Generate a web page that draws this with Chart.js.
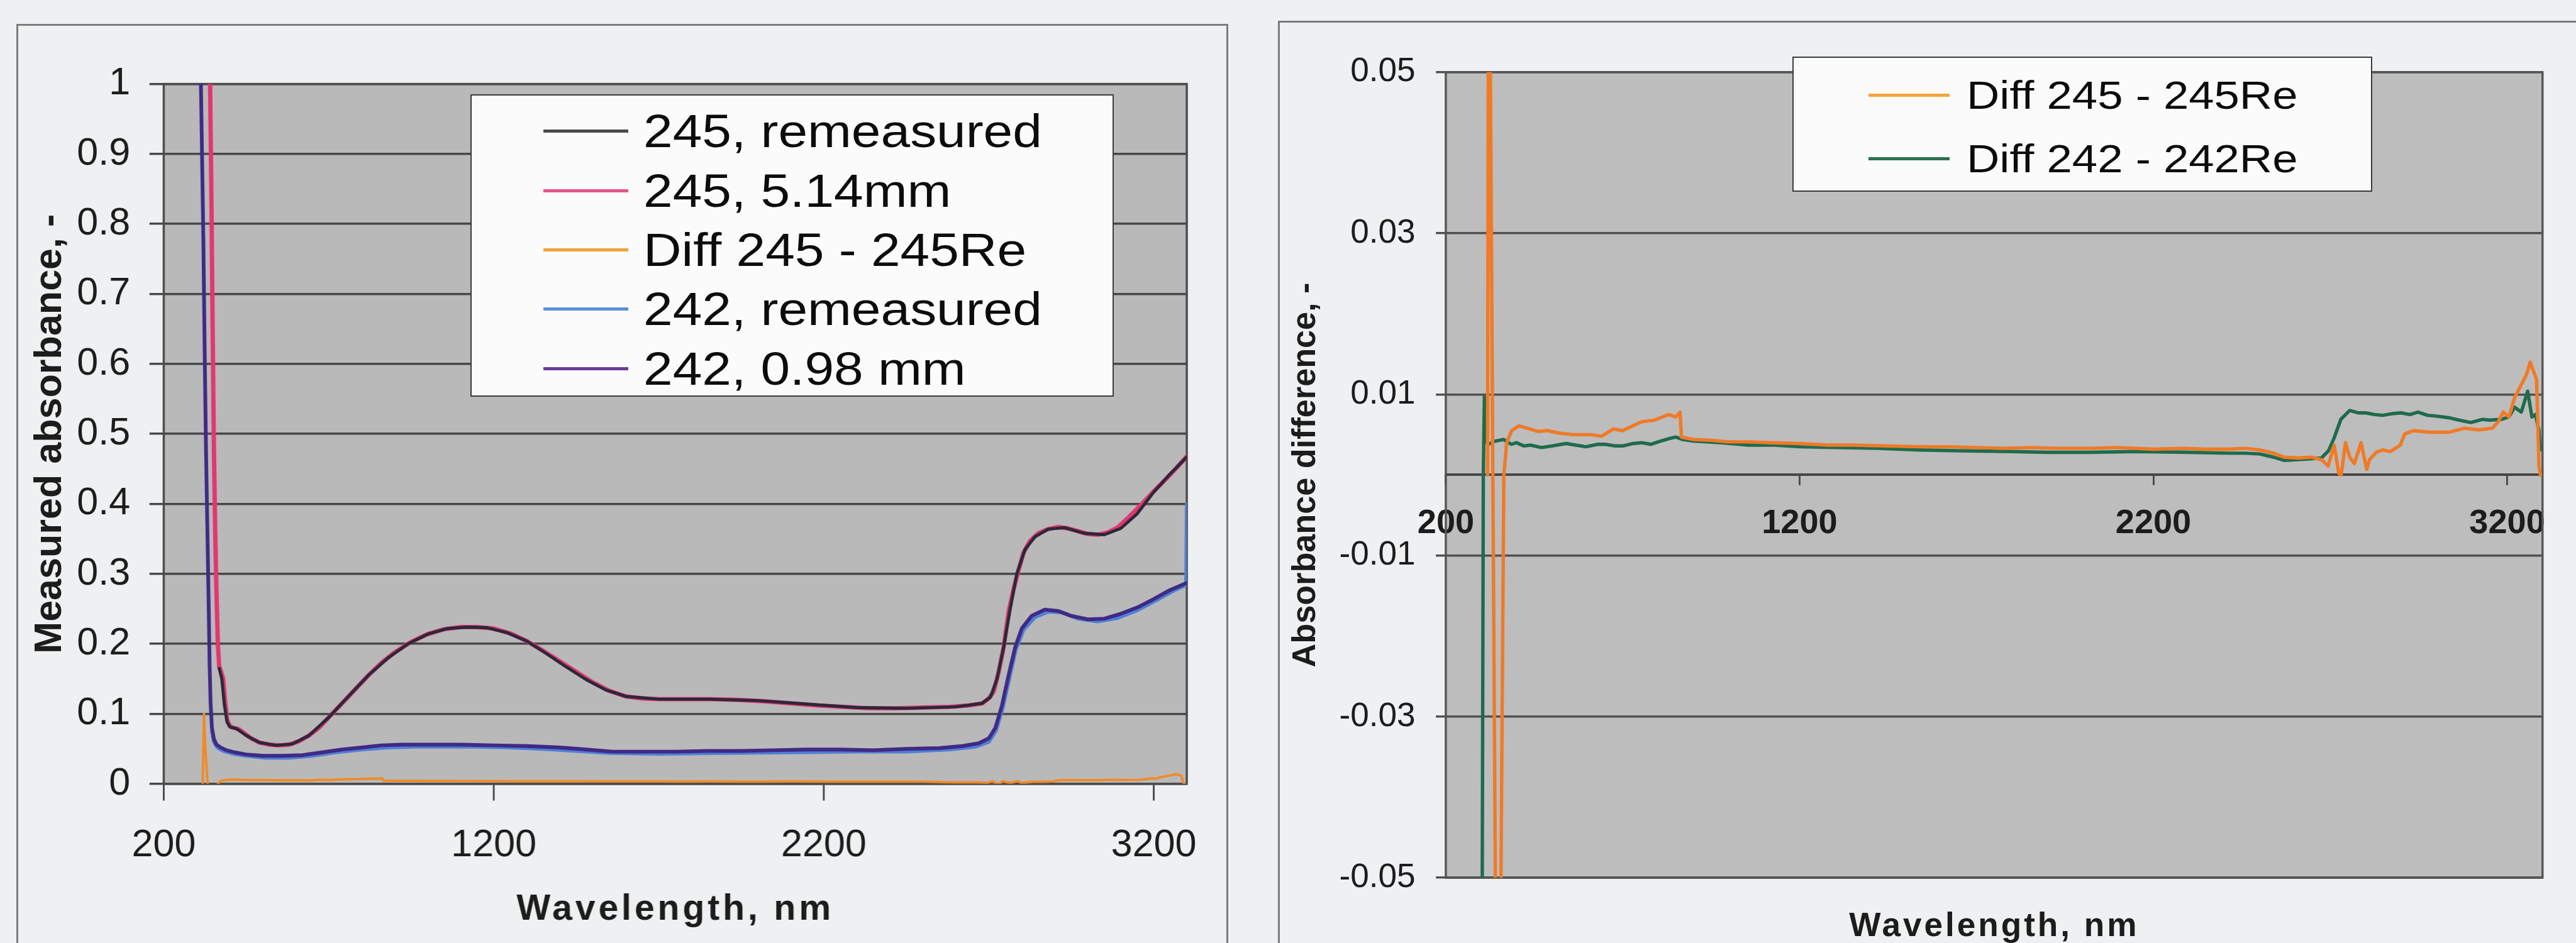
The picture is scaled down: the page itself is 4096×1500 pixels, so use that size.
<!DOCTYPE html>
<html>
<head>
<meta charset="utf-8">
<title>Measured absorbance and absorbance difference</title>
<script src="https://cdn.jsdelivr.net/npm/chart.js@4.4.1/dist/chart.umd.min.js"></script>
<style>
  html, body { margin: 0; padding: 0; }
  body {
    width: 4096px; height: 1500px; overflow: hidden; position: relative;
    background: #eef0f2; font-family: 'Liberation Sans', Arial, sans-serif;
  }
  .frame { position: absolute; box-sizing: border-box; border: 3px solid #7c7c7c; }
  canvas { position: absolute; }
  .legend { position: absolute; box-sizing: border-box; background: #fbfbfb; border: 3px solid #3c3c3c; }
  .legend .key { position: absolute; }
  .legend .label { position: absolute; white-space: nowrap; color: #0c0c0c; line-height: 1; transform-origin: left center; }
</style>
</head>
<body>
<div class="frame" id="frameLeft"></div>
<div class="frame" id="frameRight"></div>
<canvas id="absChart"></canvas>
<canvas id="diffChart"></canvas>
<div class="legend" id="legendLeft"></div>
<div class="legend" id="legendRight"></div>
<script>
// ---- data (wavelength in nm, absorbance) ----
const xTicks = [200, 1200, 2200, 3200];
const yTicksAbs = [0, 0.1, 0.2, 0.3, 0.4, 0.5, 0.6, 0.7, 0.8, 0.9, 1];
const yTicksDiff = [-0.05, -0.03, -0.01, 0.01, 0.03, 0.05];

const namesLeft = ['245, remeasured', '245, 5.14mm', 'Diff 245 - 245Re', '242, remeasured', '242, 0.98 mm'];
const namesRight = ['Diff 245 - 245Re', 'Diff 242 - 242Re'];

const wl245 = [336, 340, 344, 348, 352, 356, 360, 364, 368, 374, 380, 386, 392, 400, 412, 428, 445, 465, 490, 520,
  550, 580, 610, 640, 670, 700, 740, 780, 820, 860, 900, 950, 1000, 1050, 1100, 1150, 1200, 1250, 1300, 1350,
  1400, 1450, 1500, 1550, 1600, 1650, 1700, 1780, 1860, 1940, 2020, 2100, 2180, 2260, 2340, 2420, 2500, 2580, 2640, 2680,
  2700, 2715, 2730, 2745, 2760, 2775, 2790, 2805, 2825, 2850, 2880, 2910, 2940, 2970, 3000, 3030, 3060, 3090, 3120, 3160,
  3200, 3240, 3270, 3300];
const abs245 = [1.30, 1.02, 0.86, 0.66, 0.48, 0.36, 0.27, 0.20, 0.168, 0.160, 0.150, 0.118, 0.092, 0.082, 0.080, 0.078, 0.072, 0.065, 0.059, 0.056,
  0.055, 0.056, 0.061, 0.069, 0.080, 0.095, 0.115, 0.135, 0.155, 0.173, 0.188, 0.203, 0.214, 0.221, 0.224, 0.224, 0.222, 0.215, 0.204, 0.190,
  0.175, 0.160, 0.145, 0.133, 0.125, 0.122, 0.121, 0.121, 0.121, 0.120, 0.118, 0.115, 0.112, 0.110, 0.108, 0.108, 0.109, 0.110, 0.112, 0.115,
  0.122, 0.132, 0.160, 0.195, 0.245, 0.278, 0.305, 0.330, 0.347, 0.358, 0.364, 0.367, 0.365, 0.361, 0.357, 0.356, 0.359, 0.366, 0.379, 0.398,
  0.418, 0.437, 0.452, 0.468];

const wl245Re = [368, 376, 384, 392, 402, 420, 450, 490, 540, 590, 640, 700, 760, 820, 880, 940, 1000, 1060, 1120, 1180,
  1240, 1300, 1360, 1420, 1480, 1540, 1600, 1700, 1850, 2000, 2150, 2300, 2450, 2600, 2680, 2705, 2725, 2745, 2765, 2785,
  2810, 2840, 2880, 2930, 2990, 3050, 3100, 3150, 3200, 3250, 3300];
const abs245Re = [0.165, 0.150, 0.112, 0.088, 0.081, 0.079, 0.069, 0.059, 0.055, 0.057, 0.069, 0.095, 0.125, 0.155, 0.180, 0.200, 0.214, 0.222, 0.224, 0.223,
  0.216, 0.204, 0.186, 0.167, 0.149, 0.134, 0.125, 0.121, 0.121, 0.119, 0.114, 0.109, 0.108, 0.110, 0.115, 0.124, 0.150, 0.195, 0.250, 0.300,
  0.335, 0.353, 0.364, 0.366, 0.358, 0.356, 0.365, 0.386, 0.417, 0.443, 0.467];

const wl242 = [308, 312, 316, 320, 324, 328, 332, 336, 339, 342, 346, 352, 360, 372, 390, 415, 450, 500, 560, 620,
  680, 740, 800, 860, 920, 1000, 1100, 1200, 1300, 1400, 1480, 1560, 1650, 1750, 1850, 1950, 2050, 2150, 2250, 2350,
  2450, 2550, 2620, 2670, 2700, 2720, 2740, 2760, 2780, 2800, 2830, 2870, 2910, 2950, 3000, 3050, 3100, 3150, 3200, 3250,
  3300];
const abs242 = [1.30, 1.02, 0.90, 0.78, 0.62, 0.48, 0.37, 0.26, 0.17, 0.115, 0.080, 0.064, 0.056, 0.052, 0.048, 0.045, 0.042, 0.040, 0.040, 0.041,
  0.045, 0.049, 0.052, 0.055, 0.056, 0.056, 0.056, 0.055, 0.054, 0.052, 0.049, 0.046, 0.046, 0.046, 0.047, 0.047, 0.048, 0.049, 0.049, 0.048,
  0.050, 0.051, 0.054, 0.058, 0.065, 0.080, 0.112, 0.155, 0.195, 0.222, 0.240, 0.249, 0.247, 0.240, 0.235, 0.236, 0.243, 0.252, 0.264, 0.277,
  0.287];

const wl242Re = [346, 352, 362, 380, 410, 450, 510, 580, 650, 720, 800, 880, 960, 1050, 1150, 1250, 1350, 1450, 1550, 1700,
  1900, 2100, 2300, 2450, 2580, 2660, 2700, 2722, 2742, 2762, 2782, 2805, 2840, 2880, 2920, 2970, 3030, 3090, 3150, 3210,
  3260, 3298, 3300];
const abs242Re = [0.076, 0.060, 0.052, 0.047, 0.043, 0.040, 0.037, 0.037, 0.040, 0.045, 0.049, 0.052, 0.053, 0.053, 0.053, 0.052, 0.050, 0.047, 0.044, 0.043,
  0.044, 0.045, 0.046, 0.046, 0.049, 0.053, 0.060, 0.076, 0.108, 0.150, 0.192, 0.220, 0.238, 0.246, 0.245, 0.236, 0.232, 0.237, 0.248, 0.263,
  0.276, 0.284, 0.400];

const wlDiff245 = [318, 322, 326, 333, 340, 348, 356, 364, 372, 386, 407, 430, 460, 487, 520, 560, 611, 640, 674, 700,
  753, 790, 830, 850, 862, 866, 900, 950, 1000, 1056, 1120, 1200, 1280, 1350, 1440, 1538, 1620, 1700, 1780, 1850,
  1930, 2020, 2100, 2200, 2280, 2350, 2414, 2460, 2501, 2540, 2570, 2610, 2646, 2675, 2694, 2711, 2724, 2731, 2743, 2755,
  2768, 2787, 2803, 2811, 2830, 2848, 2870, 2898, 2911, 2935, 2980, 3035, 3079, 3120, 3158, 3175, 3189, 3205, 3221, 3240,
  3255, 3265, 3275, 3283, 3290, 3294];
const diff245 = [0, 0.1, 0.05, 0, -0.05, -0.07, -0.05, 0, 0.004, 0.0055, 0.0061, 0.0058, 0.0054, 0.0055, 0.0052, 0.0050, 0.0050, 0.0048, 0.0057, 0.0055,
  0.0066, 0.0068, 0.0075, 0.0072, 0.0078, 0.0047, 0.0044, 0.0043, 0.0041, 0.0041, 0.0040, 0.0039, 0.0037, 0.0037, 0.0036, 0.0035, 0.0035, 0.0034, 0.0033, 0.0034,
  0.0033, 0.0033, 0.0034, 0.0032, 0.0033, 0.0032, 0.0032, 0.0033, 0.0031, 0.0027, 0.0022, 0.0021, 0.0022, 0.0019, 0.0011, 0.0037, 0.0002, 0.0, 0.0040, 0.0022,
  0.0014, 0.0040, 0.0007, 0.0019, 0.0028, 0.0031, 0.0029, 0.0037, 0.0051, 0.0055, 0.0053, 0.0053, 0.0058, 0.0056, 0.0058, 0.0066, 0.0078, 0.0072, 0.0096, 0.0112,
  0.0125, 0.0140, 0.0128, 0.0119, 0.0011, 0.0];

const wlDiff242 = [300, 303, 306, 309, 316, 320, 340, 363, 385, 400, 420, 440, 470, 500, 540, 596, 630, 650, 680, 700,
  730, 753, 780, 800, 830, 850, 870, 900, 980, 1056, 1130, 1200, 1300, 1420, 1538, 1650, 1800, 1900, 2020, 2150,
  2300, 2414, 2460, 2501, 2540, 2570, 2610, 2646, 2675, 2695, 2711, 2730, 2755, 2780, 2800, 2825, 2848, 2875, 2900, 2925,
  2948, 2975, 3000, 3035, 3065, 3097, 3130, 3150, 3184, 3205, 3221, 3240, 3258, 3270, 3280, 3290, 3293];
const diff242 = [-0.07, -0.05, 0, 0.0097, 0.004, 0.0038, 0.0042, 0.0044, 0.0038, 0.004, 0.0036, 0.0037, 0.0034, 0.0036, 0.0039, 0.0035, 0.0038, 0.0038, 0.0036, 0.0036,
  0.0039, 0.0040, 0.0038, 0.0041, 0.0045, 0.0047, 0.0044, 0.0042, 0.0040, 0.0037, 0.0037, 0.0035, 0.0034, 0.0033, 0.0031, 0.0030, 0.0029, 0.0028, 0.0028, 0.0029,
  0.0028, 0.0027, 0.0027, 0.0026, 0.0022, 0.0018, 0.0019, 0.0020, 0.0021, 0.0030, 0.0046, 0.0069, 0.0080, 0.0077, 0.0077, 0.0075, 0.0074, 0.0076, 0.0077, 0.0075,
  0.0078, 0.0074, 0.0073, 0.0071, 0.0068, 0.0065, 0.0069, 0.0068, 0.0069, 0.0072, 0.0084, 0.0078, 0.0104, 0.0072, 0.0075, 0.0055, 0.0031];

const keyColorsLeft = ['#4a4a4a', '#e8558a', '#f2a23a', '#5b8ed8', '#6a3a9c'];
const keyColorsRight = ['#f5a43a', '#2b7050'];

// ---- layout helpers (sizes given in reference pixels, drawn at 0.985) ----
const S = 0.985;
const px = (v) => v * S;
const FONT = "'Liberation Sans', Arial, sans-serif";

const pts = (xs, ys) => xs.map((x, i) => ({ x, y: ys[i] }));

function place(el, x, y, w, h) {
  el.style.left = px(x) + 'px';
  el.style.top = px(y) + 'px';
  el.style.width = px(w) + 'px';
  el.style.height = px(h) + 'px';
}

function sizeCanvas(id, x, y, w, h) {
  const c = document.getElementById(id);
  place(c, x, y, w, h);
  c.width = Math.round(px(w));
  c.height = Math.round(px(h));
  return c;
}

function buildLegend(id, box, rows, names, colors) {
  const el = document.getElementById(id);
  place(el, box.x, box.y, box.w, box.h);
  el.style.borderWidth = px(3) + 'px';
  const inset = 3;
  names.forEach((name, i) => {
    const cy = rows.first + i * rows.step - box.y - inset;
    const key = document.createElement('div');
    key.className = 'key';
    key.style.left = px(rows.keyX - box.x - inset) + 'px';
    key.style.top = px(cy - 2.5) + 'px';
    key.style.width = px(rows.keyW) + 'px';
    key.style.height = px(5) + 'px';
    key.style.background = colors[i];
    el.appendChild(key);

    const label = document.createElement('div');
    label.className = 'label';
    label.textContent = name;
    label.style.fontSize = px(rows.font) + 'px';
    label.style.left = px(rows.textX - box.x - inset) + 'px';
    label.style.top = px(cy - rows.font / 2) + 'px';
    label.style.transform = `scaleX(${rows.stretch})`;
    el.appendChild(label);
  });
}

// linear scale whose title can be letter-spaced, like the original axis titles
class SpacedLinearScale extends Chart.LinearScale {
  drawTitle() {
    const spacing = this.options.title.letterSpacing;
    this.ctx.save();
    if (spacing) this.ctx.letterSpacing = spacing;
    super.drawTitle();
    this.ctx.restore();
  }
}
SpacedLinearScale.id = 'spacedLinear';
SpacedLinearScale.defaults = Chart.LinearScale.defaults;
Chart.register(SpacedLinearScale);

const plotFrame = {
  id: 'plotFrame',
  beforeDraw(chart, args, opts) {
    const { ctx, chartArea: a } = chart;
    ctx.save();
    ctx.fillStyle = opts.fill;
    ctx.fillRect(a.left, a.top, a.right - a.left, a.bottom - a.top);
    ctx.restore();
  },
  beforeDatasetsDraw(chart, args, opts) {
    const { ctx, chartArea: a } = chart;
    ctx.save();
    ctx.strokeStyle = opts.border;
    ctx.lineWidth = opts.width;
    ctx.strokeRect(a.left, a.top, a.right - a.left, a.bottom - a.top);
    ctx.restore();
  }
};

Chart.defaults.font.family = FONT;
Chart.defaults.color = '#1c1c1c';

const setTicks = (values) => (scale) => {
  scale.ticks = values.map((v) => ({ value: v }));
};
const plainLabel = (v) => String(v);

const lineDefaults = {
  point: { radius: 0, hoverRadius: 0 },
  line: { tension: 0, borderJoinStyle: 'round', borderCapStyle: 'round', fill: false }
};

// ---- frames ----
place(document.getElementById('frameLeft'), 26, 39, 1957, 1600);
place(document.getElementById('frameRight'), 2063, 33, 2200, 1600);

// ---- left chart: measured absorbance ----
const absCanvas = sizeCanvas('absChart', 26, 39, 1957, 1483);
new Chart(absCanvas, {
  type: 'line',
  data: {
    datasets: [
      { label: namesLeft[0], data: pts(wl245Re, abs245Re), borderColor: '#2b2838', borderWidth: px(5), order: 0 },
      { label: namesLeft[1], data: pts(wl245, abs245), borderColor: '#e2376f', borderWidth: px(7), order: 1 },
      { label: namesLeft[2], data: pts(wlDiff245, diff245), borderColor: '#f08a2a', borderWidth: px(4), order: 2 },
      { label: namesLeft[3], data: pts(wl242Re, abs242Re), borderColor: '#4f7fd6', borderWidth: px(6), order: 4 },
      { label: namesLeft[4], data: pts(wl242, abs242), borderColor: '#3f2a86', borderWidth: px(6), order: 3 }
    ]
  },
  options: {
    responsive: false,
    animation: false,
    events: [],
    elements: lineDefaults,
    layout: { padding: { left: 0, top: px(97), right: px(67), bottom: 0 } },
    plugins: {
      legend: { display: false },
      tooltip: { enabled: false },
      plotFrame: { fill: '#b9b9b9', border: '#4c4c4c', width: px(3.5) }
    },
    scales: {
      x: {
        type: 'spacedLinear',
        min: 200,
        max: 3300,
        afterBuildTicks: setTicks(xTicks),
        afterFit: (s) => { s.height = px(256); },
        ticks: { autoSkip: false, maxRotation: 0, padding: px(36), font: { size: px(62) }, callback: plainLabel },
        grid: { drawOnChartArea: false, drawTicks: true, tickLength: px(27), color: '#4c4c4c', lineWidth: px(3) },
        border: { display: false },
        title: {
          display: true,
          text: 'Wavelength, nm',
          letterSpacing: px(5) + 'px',
          font: { size: px(58), weight: 'bold' },
          padding: { top: 0, bottom: px(18) }
        }
      },
      y: {
        min: 0,
        max: 1,
        afterBuildTicks: setTicks(yTicksAbs),
        afterFit: (s) => { s.width = px(238); },
        ticks: { padding: px(31), font: { size: px(62) }, callback: plainLabel },
        grid: { color: '#474747', lineWidth: px(3.5), tickLength: px(23) },
        border: { display: false },
        title: {
          display: true,
          text: 'Measured absorbance, -',
          font: { size: px(62), weight: 'bold' },
          padding: { top: px(18), bottom: 0 }
        }
      }
    }
  },
  plugins: [plotFrame]
});

buildLegend('legendLeft',
  { x: 759, y: 152, w: 1039, h: 489 },
  { first: 213, step: 95.75, keyX: 878, keyW: 137, textX: 1040, font: 76, stretch: 1.12 },
  namesLeft, keyColorsLeft);

// ---- right chart: absorbance difference ----
const diffCanvas = sizeCanvas('diffChart', 2063, 33, 2093, 1527);
new Chart(diffCanvas, {
  type: 'line',
  data: {
    datasets: [
      { label: namesRight[0], data: pts(wlDiff245, diff245), borderColor: '#f07a26', borderWidth: px(5.5), order: 0, xAxisID: 'x' },
      { label: namesRight[1], data: pts(wlDiff242, diff242), borderColor: '#1f6b4d', borderWidth: px(5.5), order: 1, xAxisID: 'x' }
    ]
  },
  options: {
    responsive: false,
    animation: false,
    events: [],
    elements: lineDefaults,
    layout: { padding: { left: 0, top: px(83), right: px(52), bottom: 0 } },
    plugins: {
      legend: { display: false },
      tooltip: { enabled: false },
      plotFrame: { fill: '#bdbdbd', border: '#555555', width: px(3.5) }
    },
    scales: {
      x: {
        type: 'linear',
        min: 200,
        max: 3300,
        position: { y: 0 },
        afterBuildTicks: setTicks(xTicks),
        afterFit: (s) => { s.height = 0; },
        ticks: { autoSkip: false, maxRotation: 0, padding: px(31), font: { size: px(55), weight: 'bold' }, callback: plainLabel },
        grid: { drawOnChartArea: false, drawTicks: true, tickLength: px(15), color: '#4c4c4c', lineWidth: px(3) },
        border: { display: true, color: '#454545', width: px(4) }
      },
      xTitle: {
        type: 'spacedLinear',
        axis: 'x',
        position: 'bottom',
        min: 200,
        max: 3300,
        afterFit: (s) => { s.height = px(143); },
        ticks: { display: false },
        grid: { display: false },
        border: { display: false },
        title: {
          display: true,
          text: 'Wavelength, nm',
          letterSpacing: px(4) + 'px',
          font: { size: px(54), weight: 'bold' },
          padding: { top: 0, bottom: px(31) }
        }
      },
      y: {
        min: -0.05,
        max: 0.05,
        afterBuildTicks: setTicks(yTicksDiff),
        afterFit: (s) => { s.width = px(271); },
        ticks: { padding: px(33), font: { size: px(54) }, callback: plainLabel },
        grid: { color: '#505050', lineWidth: px(3.5), tickLength: px(16) },
        border: { display: false },
        title: {
          display: true,
          text: 'Absorbance difference, -',
          font: { size: px(53), weight: 'bold' },
          padding: { top: px(13), bottom: 0 }
        }
      }
    }
  },
  plugins: [plotFrame]
});

buildLegend('legendRight',
  { x: 2893, y: 91, w: 936, h: 219 },
  { first: 155, step: 102, keyX: 3017, keyW: 131, textX: 3176, font: 64, stretch: 1.15 },
  namesRight, keyColorsRight);
</script>
</body>
</html>
